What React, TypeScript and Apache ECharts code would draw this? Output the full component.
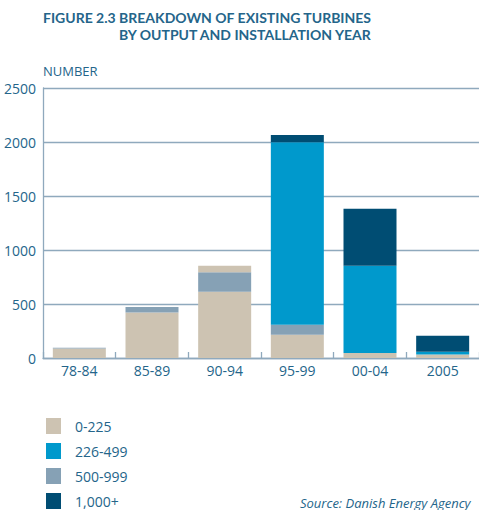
import React, { useEffect, useRef } from "react";
import * as echarts from "echarts";

const categories = ["78-84", "85-89", "90-94", "95-99", "00-04", "2005"];
const yTicks = [0, 500, 1000, 1500, 2000, 2500];
const s0to225 = [88, 422, 614, 216, 46, 33];
const s500to999 = [7, 50, 179, 92, 0, 0];
const s226to499 = [0, 0, 0, 1690, 809, 25];
const s0to225Top = [0, 0, 62, 0, 0, 0];
const s1000plus = [0, 0, 0, 67, 527, 149];
const legendNames = ["0-225", "226-499", "500-999", "1,000+"];

const C_BEIGE = "#cdc3b2";
const C_BLUE = "#0099cc";
const C_GREY = "#86a1b5";
const C_DARK = "#004d73";
const TXT = "#24658a";
const GRID = "#8fa9bd";
const FONT = "'Open Sans', sans-serif";
const TITLE_FONT = "Lato, sans-serif";

export default function App() {
  const ref = useRef<HTMLDivElement>(null);
  useEffect(() => {
    document.body.style.margin = "0";
    const chart = echarts.init(ref.current!, null, { renderer: "svg" });
    const bar = (name: string, data: number[], color: string) => ({
      name,
      type: "bar",
      stack: "total",
      data,
      barWidth: 53,
      itemStyle: { color },
      emphasis: { disabled: true },
    });
    const titleStyle = { color: TXT, fontSize: 14, lineHeight: 17, fontWeight: "bold", fontFamily: TITLE_FONT };
    chart.setOption({
      animation: false,
      textStyle: { fontFamily: FONT },
      title: {
        text: "{a|FIGURE 2.3 BREAKDOWN OF EXISTING TURBINES}\n{b|BY OUTPUT AND INSTALLATION YEAR}",
        left: 43,
        top: 9,
        padding: 0,
        textStyle: {
          ...titleStyle,
          rich: {
            a: { ...titleStyle },
            b: { ...titleStyle, padding: [0, 0, 0, 76] },
          },
        },
      },
      grid: { left: 43, top: 88, width: 438, height: 270, containLabel: false },
      legend: {
        data: legendNames,
        orient: "vertical",
        left: 46,
        top: 418,
        padding: 0,
        height: 92,
        itemWidth: 15,
        itemHeight: 16,
        itemGap: 9,
        icon: "rect",
        selectedMode: false,
        textStyle: { color: TXT, fontSize: 14, fontFamily: FONT, padding: [0, 0, 0, 9] },
      },
      xAxis: {
        type: "category",
        data: categories,
        axisLine: { show: true, lineStyle: { color: GRID, width: 1.3 } },
        axisTick: { show: true, inside: true, length: 6, lineStyle: { color: GRID, width: 1.3 } },
        axisLabel: { color: TXT, fontSize: 14, margin: 5, fontFamily: FONT },
      },
      yAxis: {
        type: "value",
        min: yTicks[0],
        max: yTicks[yTicks.length - 1],
        interval: 500,
        name: "NUMBER",
        nameLocation: "end",
        nameGap: 11,
        nameTextStyle: { color: TXT, fontSize: 13, align: "left", fontFamily: FONT },
        axisLine: { show: true, lineStyle: { color: GRID, width: 1.3 } },
        axisTick: { show: false },
        splitLine: { show: true, lineStyle: { color: GRID, width: 1.3 } },
        axisLabel: {
          color: TXT,
          fontSize: 14,
          margin: 7,
          fontFamily: FONT,
          formatter: (v: number) => String(v),
        },
      },
      graphic: [
        {
          type: "text",
          left: 300,
          top: 496,
          style: {
            text: "Source: Danish Energy Agency",
            fill: TXT,
            font: `italic 13px ${FONT}`,
          },
        },
      ],
      series: [
        bar("0-225", s0to225, C_BEIGE),
        bar("500-999", s500to999, C_GREY),
        bar("226-499", s226to499, C_BLUE),
        bar("0-225 (upper)", s0to225Top, C_BEIGE),
        bar("1,000+", s1000plus, C_DARK),
      ],
    });
    return () => chart.dispose();
  }, []);
  return <div ref={ref} style={{ width: 479, height: 510 }} />;
}
